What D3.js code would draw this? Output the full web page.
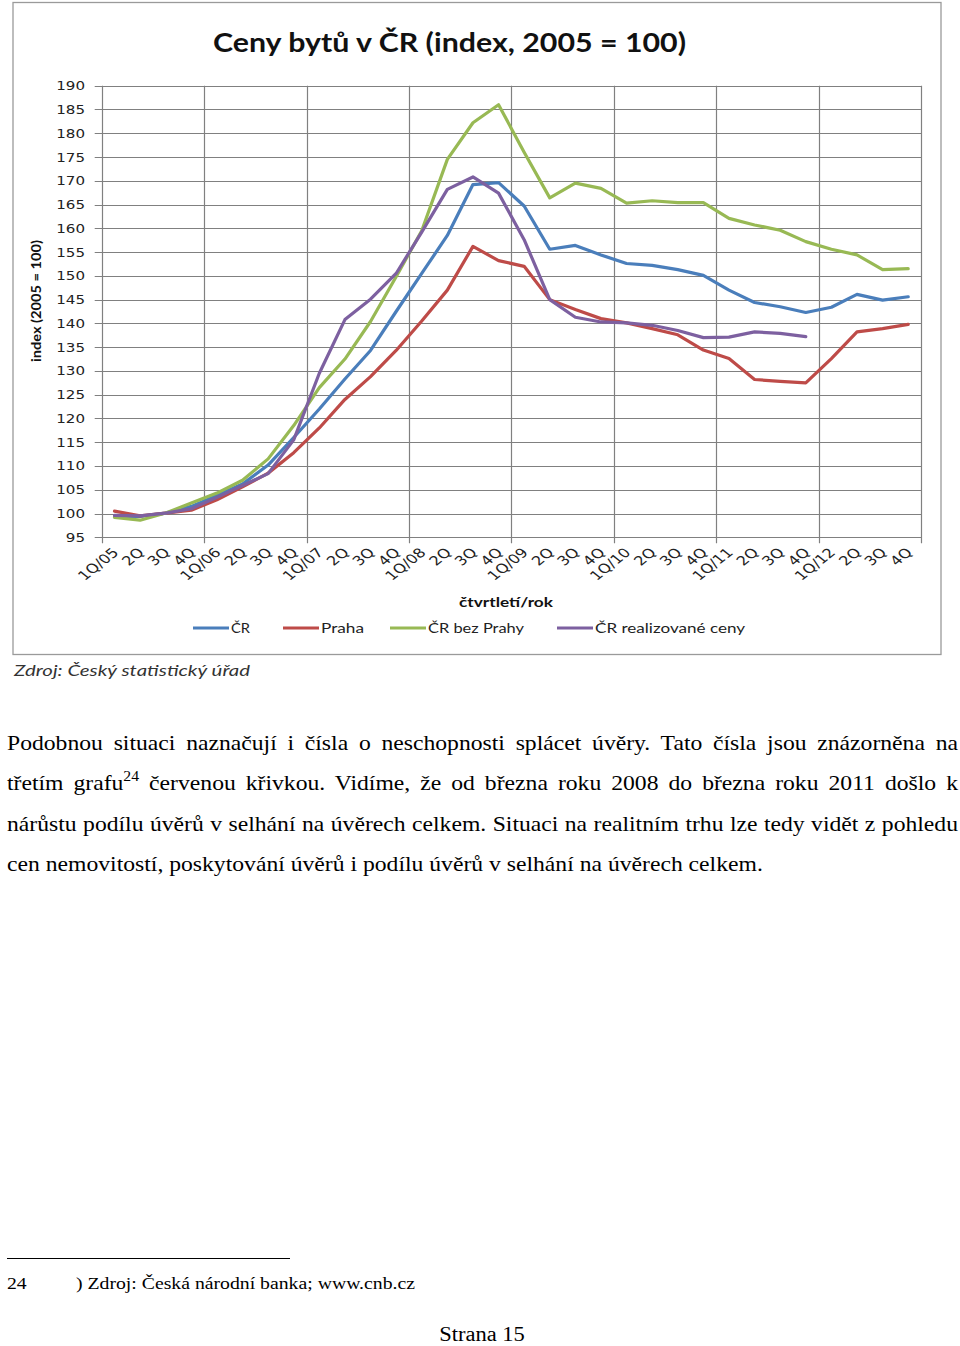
<!DOCTYPE html>
<html><head><meta charset="utf-8">
<script src="https://cdn.jsdelivr.net/npm/d3@7"></script>
<style>
html,body{margin:0;padding:0;background:#fff;}
svg{display:block;}
</style></head><body>
<svg id="page" width="960" height="1346"></svg>
<script>
// ---------- DATA ----------
const categories = [
  "1Q/05","2Q","3Q","4Q",
  "1Q/06","2Q ","3Q ","4Q ",
  "1Q/07","2Q  ","3Q  ","4Q  ",
  "1Q/08","2Q   ","3Q   ","4Q   ",
  "1Q/09","2Q    ","3Q    ","4Q    ",
  "1Q/10","2Q     ","3Q     ","4Q     ",
  "1Q/11","2Q      ","3Q      ","4Q      ",
  "1Q/12","2Q       ","3Q       ","4Q       "
];
const yTicks = [95,100,105,110,115,120,125,130,135,140,145,150,155,160,165,170,175,180,185,190];
const seriesNames = ["ČR","Praha","ČR bez Prahy","ČR realizované ceny"];
const cr = [99.4,99.4,100.1,101.5,103.8,106.2,110.2,116.0,122.0,128.3,134.3,142.5,150.5,158.5,169.2,169.6,
            164.7,155.6,156.4,154.4,152.6,152.2,151.3,150.1,147.0,144.4,143.5,142.3,143.4,146.1,144.9,145.6];
const praha = [100.5,99.5,100.1,100.7,102.9,105.6,108.5,112.8,118.0,124.0,128.8,134.3,140.5,147.0,156.2,153.2,
               152.0,145.0,142.9,141.0,140.1,138.9,137.6,134.4,132.6,128.2,127.8,127.5,132.6,138.2,138.9,139.8];
const crBezPrahy = [99.2,98.6,100.1,102.2,104.3,107.0,111.5,118.5,126.5,132.5,140.4,149.8,159.5,174.5,182.2,186.0,
                    176.0,166.4,169.5,168.4,165.3,165.8,165.4,165.4,162.1,160.7,159.6,157.2,155.6,154.4,151.3,151.5];
const crRealizovane = [99.6,99.5,100.1,101.0,103.4,105.9,108.4,115.5,129.5,140.8,145.1,150.5,159.2,168.2,170.8,167.4,
                       157.6,145.0,141.3,140.3,140.1,139.6,138.5,137.0,137.1,138.2,137.9,137.2];
const seriesValues = [cr, praha, crBezPrahy, crRealizovane];

const titleText = "Ceny bytů v ČR (index, 2005 = 100)";
const yTitle = "index (2005 = 100)";
const xTitle = "čtvrtletí/rok";
const sourceText = "Zdroj: Český statistický úřad";

const bodyLines = [
  ["Podobnou situaci naznačují i čísla o neschopnosti splácet úvěry. Tato čísla jsou znázorněna na"],
  ["třetím grafu", "24", " červenou křivkou. Vidíme, že od března roku 2008 do března roku 2011 došlo k"],
  ["nárůstu podílu úvěrů v selhání na úvěrech celkem. Situaci na realitním trhu lze tedy vidět z pohledu"],
  ["cen nemovitostí, poskytování úvěrů i podílu úvěrů v selhání na úvěrech celkem."]
];
const footnoteNum = "24";
const footnoteText = ") Zdroj: Česká národní banka; www.cnb.cz";
const pageText = "Strana 15";

// ---------- STYLE ----------
const colors = ["#4A7EBB","#BE4B48","#98B954","#7D60A0"];
const chartFont = "'DejaVu Sans', sans-serif";
const titleFont = "Lato, 'Open Sans', sans-serif";
const serif = "'Liberation Serif', 'Times New Roman', serif";

const svg = d3.select("#page");

// chart frame
svg.append("rect").attr("x",13).attr("y",2.5).attr("width",928).attr("height",652)
  .attr("fill","#fff").attr("stroke","#9a9a9a").attr("stroke-width",1.3);

const plot = {left:101.7, right:921, top:85.7, bottom:537.3};
const x = d3.scaleBand().domain(categories).range([plot.left, plot.right]).paddingInner(0).paddingOuter(0);
const y = d3.scaleLinear().domain([95,190]).range([plot.bottom, plot.top]);
const cx = c => x(c) + x.bandwidth()/2;

const grid = svg.append("g");
grid.selectAll("line.h").data(yTicks).join("line")
  .attr("x1", plot.left-7).attr("x2", plot.right)
  .attr("y1", d=>Math.round(y(d))+0.5).attr("y2", d=>Math.round(y(d))+0.5)
  .attr("stroke","#808080").attr("stroke-width",1.2);
const vCats = categories.filter((c,i)=>i%4===0);
const vPos = vCats.map(c=>x(c)).concat([plot.right]);
grid.selectAll("line.v").data(vPos).join("line")
  .attr("x1", d=>Math.round(d)+0.5).attr("x2", d=>Math.round(d)+0.5)
  .attr("y1", plot.top).attr("y2", plot.bottom+6)
  .attr("stroke","#808080").attr("stroke-width",1.2);

// y tick labels
svg.append("g").selectAll("text").data(yTicks).join("text")
  .attr("x", 85).attr("y", d=>y(d)+4.5)
  .attr("text-anchor","end")
  .attr("font-family", chartFont).attr("font-size", 12.5).attr("fill","#222")
  .attr("textLength", d=>String(d).length*9.6).attr("lengthAdjust","spacingAndGlyphs")
  .text(d=>d);

// x tick labels (rotated)
svg.append("g").selectAll("text").data(categories).join("text")
  .attr("transform", c=>`translate(${cx(c)+5},${plot.bottom+16}) scale(1.25,1) rotate(-45)`)
  .attr("text-anchor","end")
  .attr("font-family", chartFont).attr("font-size", 13).attr("fill","#222")
  .text(c=>c.trim());

// lines
const line = d3.line().x((d,i)=>cx(categories[i])).y(d=>y(d));
svg.append("g").selectAll("path").data(seriesValues).join("path")
  .attr("d", d=>line(d)).attr("fill","none")
  .attr("stroke",(d,i)=>colors[i]).attr("stroke-width",3.2)
  .attr("stroke-linejoin","round").attr("stroke-linecap","round");

// title
svg.append("text").attr("x",449.5).attr("y",52).attr("text-anchor","middle")
  .attr("font-family", titleFont).attr("font-weight","bold").attr("font-size",26).attr("fill","#111")
  .attr("textLength",473).attr("lengthAdjust","spacingAndGlyphs").text(titleText);

// y title
svg.append("text").attr("transform","translate(41,301) rotate(-90)").attr("text-anchor","middle")
  .attr("font-family", titleFont).attr("font-weight","bold").attr("font-size",14).attr("fill","#111")
  .attr("textLength",122).attr("lengthAdjust","spacingAndGlyphs").text(yTitle);

// x title
svg.append("text").attr("x",506).attr("y",607).attr("text-anchor","middle")
  .attr("font-family", titleFont).attr("font-weight","bold").attr("font-size",14).attr("fill","#111")
  .attr("textLength",94).attr("lengthAdjust","spacingAndGlyphs").text(xTitle);

// legend
const legX = [193, 283, 390, 557];
const legW = [19, 43, 96, 150];
const leg = svg.append("g").selectAll("g").data(seriesNames).join("g")
  .attr("transform",(d,i)=>`translate(${legX[i]},628)`);
leg.append("line").attr("x1",0).attr("x2",36).attr("y1",0).attr("y2",0)
  .attr("stroke",(d,i)=>colors[i]).attr("stroke-width",3.2);
leg.append("text").attr("x",38).attr("y",5).attr("font-family", titleFont).attr("font-size",14).attr("fill","#222")
  .attr("textLength",(d,i)=>legW[i]).attr("lengthAdjust","spacingAndGlyphs").text(d=>d);

// source
svg.append("text").attr("x",14).attr("y",676).attr("font-family", titleFont).attr("font-style","italic")
  .attr("font-size",16).attr("fill","#333").attr("textLength",236).attr("lengthAdjust","spacingAndGlyphs")
  .text(sourceText);

// body text (horizontally stretched serif, justified)
const bodyY = [750, 790.5, 831, 871.5];
const left = 7, right = 958, lastLineEnd = 763;
const body = svg.append("g");
const texts = bodyLines.map((parts, li) => {
  const t = body.append("text").attr("x", 0).attr("y", bodyY[li])
    .attr("font-family", serif).attr("font-size", 21).attr("fill","#000");
  if (parts.length === 1) {
    t.text(parts[0]);
  } else {
    t.append("tspan").text(parts[0]);
    t.append("tspan").attr("dy",-9).attr("font-size",14).text(parts[1]);
    t.append("tspan").attr("dy",9).text(parts[2]);
  }
  return t;
});
const lastNatural = texts[texts.length-1].node().getComputedTextLength();
const sx = (lastLineEnd - left) / lastNatural;
body.attr("transform", `translate(${left},0) scale(${sx},1)`);
texts.forEach((t, li) => {
  if (li < texts.length - 1) {
    const natural = t.node().getComputedTextLength();
    const spaces = bodyLines[li].join("").split(" ").length - 1;
    t.attr("word-spacing", ((right - left) / sx - natural) / spaces);
  }
});

// footnote
svg.append("line").attr("x1",7).attr("x2",290).attr("y1",1258.5).attr("y2",1258.5)
  .attr("stroke","#000").attr("stroke-width",1);
svg.append("text").attr("transform",`translate(7,1289) scale(${sx},1)`)
  .attr("font-family",serif).attr("font-size",17.5).text(footnoteNum);
svg.append("text").attr("transform",`translate(76,1289)`)
  .attr("font-family",serif).attr("font-size",17.5)
  .attr("textLength",339).attr("lengthAdjust","spacingAndGlyphs").text(footnoteText);
svg.append("text").attr("transform",`translate(482,1341) scale(${sx},1)`).attr("text-anchor","middle")
  .attr("font-family",serif).attr("font-size",20).text(pageText);
</script>
</body></html>
